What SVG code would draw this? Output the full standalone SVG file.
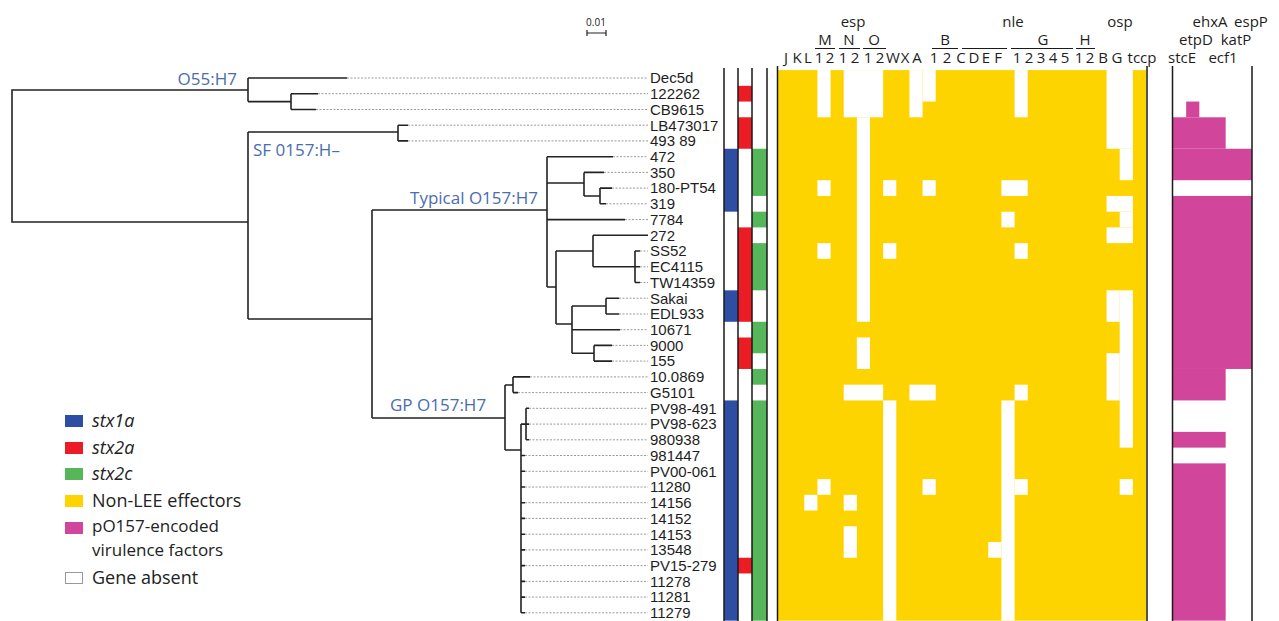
<svg xmlns="http://www.w3.org/2000/svg" width="1279" height="621" viewBox="0 0 1279 621">
<style>
.br{fill:none;stroke:#222;stroke-width:1.6}
.dt{fill:none;stroke:#9a9a9a;stroke-width:1;stroke-dasharray:2 1.5}
.tx{font-family:"Liberation Sans",Arial,sans-serif;font-size:15px;fill:#1e1e1e}
.cl{font-family:"Open Sans","Liberation Sans",sans-serif;font-size:17px;fill:#4a6cb0}
.hd{font-family:"Open Sans","Liberation Sans",sans-serif;font-size:15px;fill:#1e1e1e;text-anchor:middle}
.lg{font-family:"Open Sans","Liberation Sans",sans-serif;font-size:18px;fill:#222}
.lg2{font-family:"Open Sans","Liberation Sans",sans-serif;font-size:17px;fill:#222}
.it{font-style:italic}
.bl{stroke:#1a1a1a;stroke-width:1.5}
.ul{stroke:#1a1a1a;stroke-width:1.2}
.w{fill:#fff}
</style>
<rect width="1279" height="621" fill="#fff"/>

<g id="connectors">
<path class="br" d="M248,90 H12 V222 H248 M248,78 V101.6 M248,78 H347 M248,101.6 H291 M291,93.7 V109.5 M291,93.7 H318 M291,109.5 H316 M248,132 V319 M248,132 H398 M398,125.2 V140.9 M398,125.2 H408 M398,140.9 H408 M248,319 H372 M372,210 V418 M372,210 H547 M372,418 H505
M547,156.7 V287 M547,156.7 H613 M547,183 H584 M584,172.4 V196 M584,172.4 H604 M584,196 H600 M600,188.1 V203.8 M600,188.1 H612 M600,203.8 H606 M547,219.6 H625
M547,287 H556 M556,251 V324 M556,251 H593 M593,235.3 V266.8 M593,235.3 H648 M593,266.8 H635 M635,251 V282.5 M635,251 H640 M635,266.8 H640 M635,282.5 H640
M556,324 H572 M572,306 V353.3 M572,306 H606 M606,298.2 V314 M606,298.2 H619 M606,314 H619 M572,329.7 H620 M572,353.3 H594 M594,345.4 V361.1 M594,345.4 H612 M594,361.1 H612
M505,385 V450 M505,385 H513 M513,376.9 V392.6 M513,376.9 H530 M513,392.6 H518 M505,450 H521 M521,424.1 V612.8 M521,424.1 H526 M526,408.3 V439.8 M526,408.3 H529 M526,424.1 H529 M526,439.8 H529
M521,455.5 H525 M521,471.3 H525 M521,487 H525 M521,502.7 H525 M521,518.4 H525 M521,534.2 H525 M521,549.9 H525 M521,565.6 H525 M521,581.4 H525 M521,597.1 H525 M521,612.8 H525"/>
<path class="dt" d="M347,78 H648 M318,93.7 H648 M316,109.5 H648 M408,125.2 H648 M408,140.9 H648 M613,156.7 H648 M604,172.4 H648 M612,188.1 H648 M606,203.8 H648 M625,219.6 H648 M640,251 H648 M640,266.8 H648 M640,282.5 H648 M619,298.2 H648 M619,314 H648 M620,329.7 H648 M612,345.4 H648 M612,361.1 H648 M530,376.9 H648 M518,392.6 H648 M529,408.3 H648 M529,424.1 H648 M529,439.8 H648 M525,455.5 H648 M525,471.3 H648 M525,487 H648 M525,502.7 H648 M525,518.4 H648 M525,534.2 H648 M525,549.9 H648 M525,565.6 H648 M525,581.4 H648 M525,597.1 H648 M525,612.8 H648"/>
</g>

<g id="clade-labels">
<text class="cl" x="237" y="85" text-anchor="end">O55:H7</text>
<text class="cl" x="253" y="156">SF 0157:H–</text>
<text class="cl" x="538" y="204" text-anchor="end">Typical O157:H7</text>
<text class="cl" x="390" y="411">GP O157:H7</text>
</g>

<g id="strains" class="tx">
<text x="650" y="83.3">Dec5d</text>
<text x="650" y="99">122262</text>
<text x="650" y="114.8">CB9615</text>
<text x="650" y="130.5">LB473017</text>
<text x="650" y="146.2">493 89</text>
<text x="650" y="162">472</text>
<text x="650" y="177.7">350</text>
<text x="650" y="193.4">180-PT54</text>
<text x="650" y="209.1">319</text>
<text x="650" y="224.9">7784</text>
<text x="650" y="240.6">272</text>
<text x="650" y="256.3">SS52</text>
<text x="650" y="272.1">EC4115</text>
<text x="650" y="287.8">TW14359</text>
<text x="650" y="303.5">Sakai</text>
<text x="650" y="319.3">EDL933</text>
<text x="650" y="335">10671</text>
<text x="650" y="350.7">9000</text>
<text x="650" y="366.4">155</text>
<text x="650" y="382.2">10.0869</text>
<text x="650" y="397.9">G5101</text>
<text x="650" y="413.6">PV98-491</text>
<text x="650" y="429.4">PV98-623</text>
<text x="650" y="445.1">980938</text>
<text x="650" y="460.8">981447</text>
<text x="650" y="476.6">PV00-061</text>
<text x="650" y="492.3">11280</text>
<text x="650" y="508">14156</text>
<text x="650" y="523.7">14152</text>
<text x="650" y="539.5">14153</text>
<text x="650" y="555.2">13548</text>
<text x="650" y="570.9">PV15-279</text>
<text x="650" y="586.7">11278</text>
<text x="650" y="602.4">11281</text>
<text x="650" y="618.1">11279</text>
</g>

<g id="stx-columns">
<g transform="translate(0,70.1) scale(1,15.73)">
<rect x="724" y="5" width="14" height="4" fill="#2d4ea2"/>
<rect x="724" y="14" width="14" height="2" fill="#2d4ea2"/>
<rect x="724" y="21" width="14" height="14" fill="#2d4ea2"/>
<rect x="738" y="1" width="14" height="1" fill="#ec1c24"/>
<rect x="738" y="3" width="14" height="2" fill="#ec1c24"/>
<rect x="738" y="10" width="14" height="6" fill="#ec1c24"/>
<rect x="738" y="17" width="14" height="2" fill="#ec1c24"/>
<rect x="738" y="31" width="14" height="1" fill="#ec1c24"/>
<rect x="752" y="5" width="15" height="3" fill="#56b65a"/>
<rect x="752" y="9" width="15" height="1" fill="#56b65a"/>
<rect x="752" y="11" width="15" height="3" fill="#56b65a"/>
<rect x="752" y="16" width="15" height="2" fill="#56b65a"/>
<rect x="752" y="19" width="15" height="1" fill="#56b65a"/>
<rect x="752" y="21" width="15" height="14" fill="#56b65a"/>
</g>
<path class="bl" d="M724,68 V621 M738,68 V621 M752,68 V621 M767,68 V621"/>
</g>

<g id="effectors">
<g transform="translate(778,70.1) scale(13.143,15.73)">
<rect width="28" height="35" fill="#fdd400"/>
<g class="w">
<rect x="3" y="0" width="1" height="3"/>
<rect x="5" y="0" width="3" height="3"/>
<rect x="6" y="3" width="1" height="13"/>
<rect x="10" y="0" width="1" height="3"/>
<rect x="11" y="0" width="1" height="2"/>
<rect x="18" y="0" width="1" height="3"/>
<rect x="25" y="0" width="2" height="5"/>
<rect x="26" y="5" width="1" height="2"/>
<rect x="3" y="7" width="1" height="1"/>
<rect x="8" y="7" width="1" height="1"/>
<rect x="11" y="7" width="1" height="1"/>
<rect x="17" y="7" width="2" height="1"/>
<rect x="17" y="9" width="1" height="1"/>
<rect x="25" y="8" width="2" height="1"/>
<rect x="26" y="9" width="1" height="1"/>
<rect x="25" y="10" width="2" height="1"/>
<rect x="3" y="11" width="1" height="1"/>
<rect x="8" y="11" width="1" height="1"/>
<rect x="18" y="11" width="1" height="1"/>
<rect x="25" y="14" width="1" height="2"/>
<rect x="26" y="14" width="1" height="10"/>
<rect x="6" y="17" width="1" height="2"/>
<rect x="25" y="18" width="1" height="3"/>
<rect x="5" y="20" width="3" height="1"/>
<rect x="10" y="20" width="2" height="1"/>
<rect x="18" y="20" width="1" height="1"/>
<rect x="8" y="21" width="1" height="14"/>
<rect x="17" y="21" width="1" height="14"/>
<rect x="3" y="26" width="1" height="1"/>
<rect x="11" y="26" width="1" height="1"/>
<rect x="18" y="26" width="1" height="1"/>
<rect x="26" y="26" width="1" height="1"/>
<rect x="2" y="27" width="1" height="1"/>
<rect x="5" y="27" width="1" height="1"/>
<rect x="5" y="29" width="1" height="2"/>
<rect x="16" y="30" width="1" height="1"/>
</g>
</g>
<path class="bl" d="M777.5,66 V621 M1147,66 V621"/>
</g>

<g id="po157">
<g transform="translate(1173,70.1) scale(13.167,15.73)" fill="#d1459b">
<rect x="1" y="2" width="1" height="1"/>
<rect x="0" y="3" width="4" height="2"/>
<rect x="0" y="5" width="6" height="2"/>
<rect x="0" y="8" width="6" height="11"/>
<rect x="0" y="19" width="4" height="2"/>
<rect x="0" y="23" width="4" height="1"/>
<rect x="0" y="25" width="4" height="10"/>
</g>
<path class="bl" d="M1172.5,66 V621 M1252,66 V621"/>
</g>

<g id="header">
<text x="596" y="26" font-family="Open Sans,Liberation Sans,sans-serif" font-size="10" fill="#222" text-anchor="middle">0.01</text>
<path d="M587,33 H606 M587,30 V36 M606,30 V36" stroke="#222" stroke-width="1.2" fill="none"/>
<text class="hd" x="853" y="27">esp</text>
<text class="hd" x="1013" y="27">nle</text>
<text class="hd" x="1120" y="27">osp</text>
<text class="hd" x="825" y="45">M</text>
<text class="hd" x="849" y="45">N</text>
<text class="hd" x="874" y="45">O</text>
<text class="hd" x="945" y="45">B</text>
<text class="hd" x="1043" y="45">G</text>
<text class="hd" x="1085" y="45">H</text>
<path class="ul" d="M815,48.5 H835 M839,48.5 H860 M863,48.5 H886 M932,48.5 H958 M962,48.5 H1007 M1011,48.5 H1073 M1076,48.5 H1095"/>
<text class="hd" y="63"><tspan x="786">J</tspan><tspan x="797">K</tspan><tspan x="808">L</tspan><tspan x="819">1</tspan><tspan x="830">2</tspan><tspan x="843">1</tspan><tspan x="855">2</tspan><tspan x="868">1</tspan><tspan x="880">2</tspan><tspan x="893">W</tspan><tspan x="905">X</tspan><tspan x="917">A</tspan><tspan x="934">1</tspan><tspan x="947">2</tspan><tspan x="961">C</tspan><tspan x="974">D</tspan><tspan x="986">E</tspan><tspan x="998">F</tspan><tspan x="1017">1</tspan><tspan x="1029">2</tspan><tspan x="1041">3</tspan><tspan x="1053">4</tspan><tspan x="1065">5</tspan><tspan x="1079">1</tspan><tspan x="1090">2</tspan><tspan x="1103">B</tspan><tspan x="1117">G</tspan><tspan x="1142">tccp</tspan></text>
<text class="hd" x="1210" y="27">ehxA</text>
<text class="hd" x="1251" y="27">espP</text>
<text class="hd" x="1196" y="45">etpD</text>
<text class="hd" x="1236" y="45">katP</text>
<text class="hd" x="1182" y="63">stcE</text>
<text class="hd" x="1223" y="63">ecf1</text>
</g>

<g id="legend">
<rect x="65" y="415" width="18" height="12" fill="#2d4ea2"/>
<rect x="65" y="442" width="18" height="12" fill="#ec1c24"/>
<rect x="65" y="468" width="18" height="12" fill="#56b65a"/>
<rect x="65" y="495" width="18" height="12" fill="#fdd400"/>
<rect x="65" y="522" width="18" height="12" fill="#d1459b"/>
<rect x="65.5" y="572.5" width="17" height="11" fill="#fff" stroke="#999" stroke-width="1"/>
<text class="lg it" x="92" y="427">stx1a</text>
<text class="lg it" x="92" y="454">stx2a</text>
<text class="lg it" x="92" y="480">stx2c</text>
<text class="lg" x="92" y="507">Non-LEE effectors</text>
<text class="lg2" x="92" y="532">pO157-encoded</text>
<text class="lg2" x="92" y="556">virulence factors</text>
<text class="lg" x="92" y="584">Gene absent</text>
</g>
</svg>
